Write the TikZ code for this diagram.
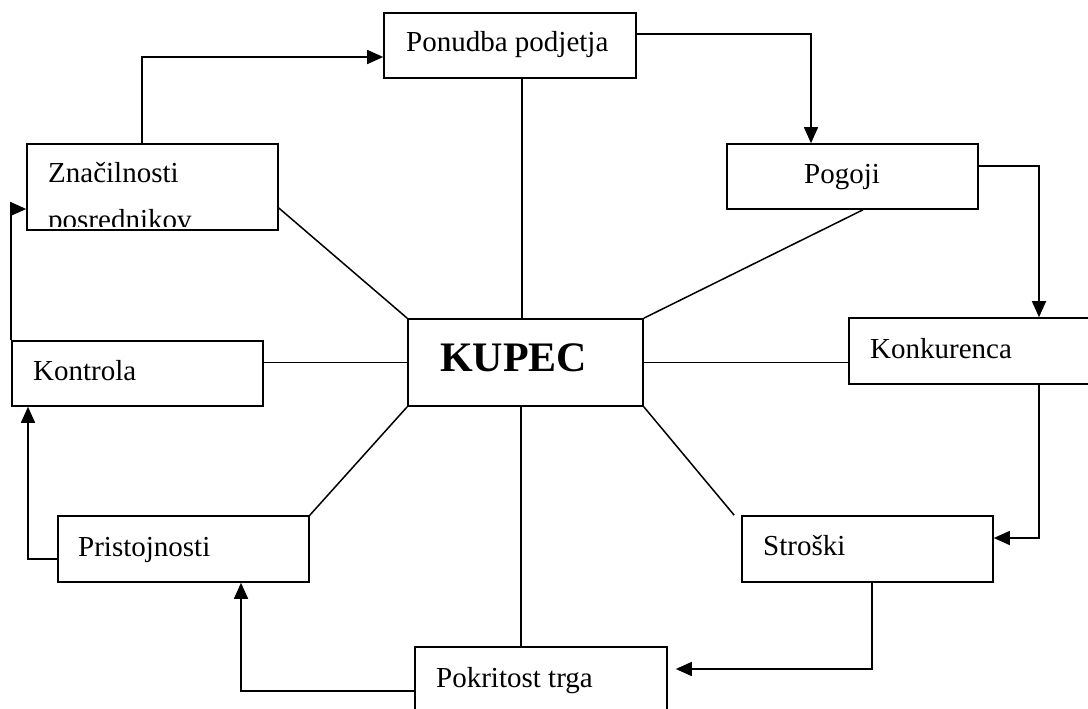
\documentclass[tikz,border=0pt]{standalone}
\usepackage{fontspec}
\setmainfont{Liberation Serif}
\usetikzlibrary{arrows.meta}
\begin{document}
\begin{tikzpicture}[x=1pt,y=-1pt,
  box/.style={draw,line width=1.6pt,rectangle,inner sep=0pt,minimum width=251pt,minimum height=66pt},
  lbl/.style={anchor=base west,inner sep=0pt,font=\fontsize{29}{35}\selectfont},
  link/.style={line width=1.5pt},
  arr/.style={line width=1.5pt,-{Triangle[length=16pt,width=14pt]}}]
\fill[white] (0,0) rectangle (1088,709);
\useasboundingbox (0,0) rectangle (1088,709);
% boxes
\node[box,minimum width=252pt,minimum height=65pt] (pon) at (510,45.5) {};
\node[box,minimum height=65pt] (pog) at (852.5,176.5) {};
\node[box,minimum height=86pt] (zna) at (152.5,187) {};
\node[box,minimum width=235pt,minimum height=87pt] (kup) at (525.5,362.5) {};
\node[box,minimum height=65pt] (kon) at (137.5,373.5) {};
\node[box] (konk) at (974.5,351) {};
\node[box] (pri) at (183.5,549) {};
\node[box] (str) at (867.5,549) {};
\node[box,minimum width=252pt] (pok) at (541,680) {};
% labels
\node[lbl] (tpon) at (406,52) {Ponudba podjetja};
\node[lbl] (tpog) at (804,183) {Pogoji};
\node[lbl] (tzna) at (48,182) {Značilnosti};
\begin{scope}
\clip (27,144) rectangle (278,226);
\node[lbl] (tzna2) at (48,229) {posrednikov};
\end{scope}
\node[anchor=base west,inner sep=0pt,font=\fontsize{42}{50}\selectfont\bfseries] (tkup) at (440,371) {KUPEC};
\node[lbl] (tkon) at (33,380) {Kontrola};
\node[lbl] (tkonk) at (870,358) {Konkurenca};
\node[lbl] (tpri) at (78,556) {Pristojnosti};
\node[lbl] (tstr) at (763,555) {Stroški};
\node[lbl] (tpok) at (436,687) {Pokritost trga};
% spokes
\draw[link] ([xshift=-3.5pt]kup.north) -- ([xshift=-3.5pt]kup.north |- pon.south);
\draw[link] ([xshift=10.5pt]pog.south) -- (kup.north east);
\draw[link] ([yshift=-21pt]zna.east) -- (kup.north west);
\draw[link] (kup.west) -- (kup.west -| kon.east);
\draw[link] (kup.east) -- (kup.east -| konk.west);
\draw[link] (kup.south west) -- (pri.north east);
\draw[link] (kup.south east) -- ([xshift=-7pt]str.north west);
\draw[link] ([xshift=-4.5pt]kup.south) -- ([xshift=-4.5pt]kup.south |- pok.north);
% cycle of arrows
\draw[arr] ([xshift=-10.5pt]zna.north) |- ([yshift=-11.5pt]pon.west);
\draw[arr] ([yshift=11.5pt]pon.east) -| ([xshift=-41.5pt]pog.north);
\draw[arr] ([yshift=10.5pt]pog.east) -| ([xshift=64.5pt]konk.north);
\draw[arr] ([xshift=64.5pt]konk.south) |- ([yshift=11pt]str.east);
\draw[arr,shorten >=8pt] ([xshift=4.5pt]str.south) |- ([yshift=11pt]pok.east);
\draw[arr] ([yshift=-11pt]pok.west) -| ([xshift=57.5pt]pri.south);
\draw[arr] ([yshift=-10pt]pri.west) -| ([xshift=-109.5pt]kon.south);
\draw[arr] (kon.north west) |- ([yshift=-22pt]zna.west);
\end{tikzpicture}
\end{document}
